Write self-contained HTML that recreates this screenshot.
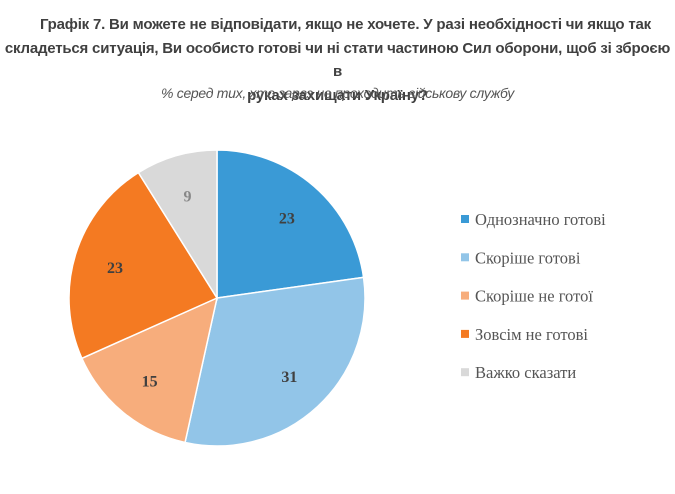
<!DOCTYPE html>
<html><head><meta charset="utf-8">
<style>
body{margin:0;background:#fff;width:675px;height:494px;overflow:hidden;}
.t{position:absolute;left:0;width:675px;text-align:center;font-family:"Liberation Sans",sans-serif;color:#404040;}
.title{font-weight:bold;font-size:15px;letter-spacing:-0.2px;}
.sub{font-style:italic;font-size:14px;color:#555;letter-spacing:-0.3px;}
</style></head>
<body>
<div class="t title" style="top:13px;line-height:23.5px;">&nbsp;&nbsp;&nbsp;&nbsp;Графік 7. Ви можете не відповідати, якщо не хочете. У разі необхідності чи якщо так<br>складеться ситуація, Ви особисто готові чи ні стати частиною Сил оборони, щоб зі зброєю в<br>руках захищати Україну?</div>
<div class="t sub" style="top:85px;">% серед тих, хто зараз не проходить військову службу</div>
<svg id="c" width="675" height="494" style="position:absolute;left:0;top:0"></svg>
<script>
const categories=["Однозначно готові","Скоріше готові","Скоріше не готої","Зовсім не готові","Важко сказати"];
const values=[23,31,15,23,9];
const colors=["#3a9ad6","#92c5e8","#f7ad7c","#f47a22","#d9d9d9"];
const labelColors=["#404040","#404040","#404040","#404040","#888"];
const svg=document.getElementById('c');
const NS="http://www.w3.org/2000/svg";
const cx=217,cy=298,r=148;
const total=values.reduce((a,b)=>a+b,0);
function pt(a,rr){return [cx+rr*Math.sin(a),cy-rr*Math.cos(a)];}
let a0=0;
values.forEach((v,i)=>{
  const a1=a0+v/total*2*Math.PI;
  const p0=pt(a0,r),p1=pt(a1,r);
  const large=(a1-a0)>Math.PI?1:0;
  const path=document.createElementNS(NS,'path');
  path.setAttribute('d',`M${cx},${cy}L${p0[0]},${p0[1]}A${r},${r} 0 ${large} 1 ${p1[0]},${p1[1]}Z`);
  path.setAttribute('fill',colors[i]);
  path.setAttribute('stroke','#fff');
  path.setAttribute('stroke-width','1.5');
  
  
  svg.appendChild(path);
  const m=(a0+a1)/2, lp=pt(m,r*0.72);
  const t=document.createElementNS(NS,'text');
  t.setAttribute('x',lp[0]);t.setAttribute('y',lp[1]+6);
  t.setAttribute('text-anchor','middle');
  t.setAttribute('font-family','Liberation Serif, serif');
  t.setAttribute('font-weight','bold');t.setAttribute('font-size','16');
  t.setAttribute('fill',labelColors[i]);
  t.textContent=v;
  
  
  svg.appendChild(t);
  // legend
  const y=220+i*38.3;
  const g=document.createElementNS(NS,'g');
  
  
  const sq=document.createElementNS(NS,'rect');
  sq.setAttribute('x',461);sq.setAttribute('y',y-5);sq.setAttribute('width',8);sq.setAttribute('height',8);
  sq.setAttribute('fill',colors[i]);
  g.appendChild(sq);
  const lt=document.createElementNS(NS,'text');
  lt.setAttribute('x',475);lt.setAttribute('y',y+5);
  lt.setAttribute('font-family','Liberation Serif, serif');lt.setAttribute('font-size','16.5');
  lt.setAttribute('fill','#555');
  lt.textContent=categories[i];
  g.appendChild(lt);
  svg.appendChild(g);
  a0=a1;
});
</script>
</body></html>
